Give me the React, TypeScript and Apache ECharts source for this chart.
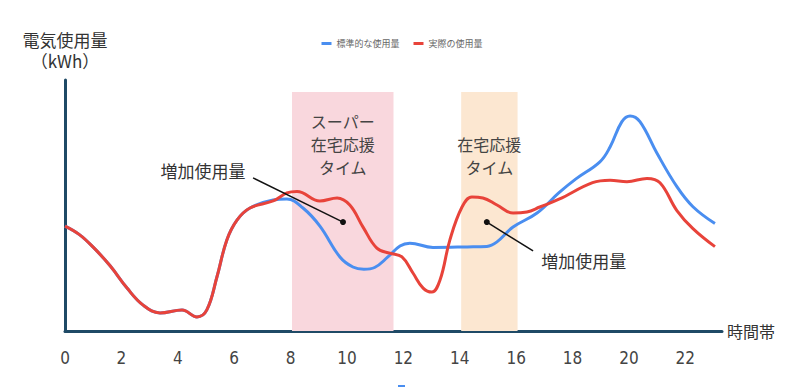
import React, { useEffect, useRef } from "react";
import * as echarts from "echarts";

const xTickLabels = ["0", "2", "4", "6", "8", "10", "12", "14", "16", "18", "20", "22"];

const standardHours = [0, 0.5, 0.99, 1.6, 2.2, 2.76, 3.37, 4.15, 4.68, 5.03, 5.39, 5.74, 6.1, 6.56, 7.38, 7.87, 8.44, 9.04, 9.75, 10.21, 10.6, 10.98, 11.45, 11.88, 12.23, 13.05, 14.26, 14.96, 15.32, 15.89, 16.74, 17.52, 18.12, 18.97, 19.33, 19.75, 20.04, 20.39, 20.99, 21.7, 22.27, 23.05];
const standardUsage = [41.8, 38.5, 33.5, 26, 17.1, 10.4, 7.2, 8.4, 5.6, 8.4, 21.6, 36.3, 44.2, 49, 52.2, 52.6, 49, 41.8, 29.5, 25.5, 24.6, 25.3, 29.5, 33.9, 35, 33.3, 33.5, 33.7, 35.5, 41.4, 47, 55.1, 60.6, 67.4, 73.3, 83.4, 85.7, 83.4, 70.9, 57.5, 49.5, 42.8];

const actualHours = [0, 0.5, 0.99, 1.6, 2.2, 2.76, 3.37, 4.15, 4.68, 5.03, 5.39, 5.74, 6.1, 6.56, 7.38, 7.87, 8.23, 9.04, 9.65, 10.1, 10.57, 11.06, 11.52, 11.95, 12.34, 12.7, 13.01, 13.3, 13.65, 14.08, 14.43, 14.82, 15.32, 15.89, 16.38, 16.84, 17.52, 18.71, 19.33, 19.93, 20.64, 21.1, 21.7, 22.27, 23.05];
const actualUsage = [41.8, 38.5, 33.5, 26, 17.1, 10.4, 7.2, 8.4, 5.6, 8.4, 21.6, 36.3, 44.2, 49, 51.8, 55, 55.6, 51.8, 53, 50.2, 41.4, 33, 31, 29.5, 23.1, 17.1, 15.5, 20.3, 36.3, 49.4, 53.4, 53, 50.2, 47, 47.4, 49.4, 52.5, 59.1, 60.1, 59.5, 60.8, 59.1, 48, 40.8, 33.6];

const bandRanges = [
  { from: 8.05, to: 11.65, top: 95.2, label: "スーパー\n在宅応援\nタイム", color: "#f9d7dd", gap: 17 },
  { from: 14.05, to: 16.05, top: 95.2, label: "在宅応援\nタイム", color: "#fce7d1", gap: 40 },
];

const annotations = [
  { text: "増加使用量", textAt: [4.89, 64.1], from: [6.67, 61], to: [9.86, 43.4] },
  { text: "増加使用量", textAt: [18.4, 27.9], from: [16.6, 31.9], to: [14.96, 43.4] },
];

const JP = "'Noto Sans CJK JP', 'Noto Sans', sans-serif";

export default function App() {
  const ref = useRef<HTMLDivElement>(null);
  useEffect(() => {
    if (!ref.current) return;
    const chart = echarts.init(ref.current, null, { renderer: "svg" });
    const zip = (xs: number[], ys: number[]) => xs.map((x, i) => [x, ys[i]]);
    chart.setOption({
      animation: false,
      backgroundColor: "#ffffff",
      legend: {
        top: 34,
        left: "center",
        icon: "rect",
        itemWidth: 10,
        itemHeight: 3,
        itemGap: 14,
        textStyle: { fontSize: 9, color: "#666", fontFamily: JP },
        data: ["標準的な使用量", "実際の使用量"],
      },
      grid: { left: 65, top: 80, width: 657, height: 251 },
      xAxis: {
        type: "value",
        min: 0,
        max: 23.3,
        interval: 2,
        name: "時間帯",
        nameLocation: "end",
        nameGap: 5,
        nameTextStyle: { fontSize: 16, color: "#333", fontFamily: JP, verticalAlign: "middle" },
        axisLine: { show: true, lineStyle: { color: "#1f4a66", width: 3 } },
        axisTick: { show: false },
        splitLine: { show: false },
        axisLabel: {
          showMaxLabel: false,
          margin: 18,
          fontSize: 17,
          color: "#444",
          fontFamily: "'Liberation Sans Narrow', 'DejaVu Sans Condensed', sans-serif",
          formatter: (v: number) => {
            const s = String(Math.round(v));
            return xTickLabels.includes(s) && Math.abs(v - Math.round(v)) < 1e-6 ? s : "";
          },
        },
      },
      yAxis: {
        type: "value",
        min: 0,
        max: 100,
        name: "電気使用量\n（kWh）",
        nameLocation: "end",
        nameGap: 9,
        nameTextStyle: { fontSize: 17, lineHeight: 21, color: "#333", fontFamily: JP, align: "center" },
        axisLine: { show: true, lineStyle: { color: "#1f4a66", width: 3 } },
        axisTick: { show: false },
        axisLabel: { show: false },
        splitLine: { show: false },
      },
      series: [
        {
          name: "標準的な使用量",
          type: "line",
          smooth: 0.4,
          symbol: "none",
          lineStyle: { color: "#4a8ef0", width: 3 },
          itemStyle: { color: "#4a8ef0" },
          data: zip(standardHours, standardUsage),
          z: 3,
          markArea: {
            silent: true,
            data: bandRanges.map((b) => [
              {
                xAxis: b.from,
                yAxis: 0,
                itemStyle: { color: b.color },
                label: {
                  show: true,
                  position: "insideTop",
                  distance: b.gap,
                  formatter: b.label,
                  fontSize: 16,
                  lineHeight: 23,
                  color: "#444",
                  fontFamily: JP,
                },
              },
              { xAxis: b.to, yAxis: b.top },
            ]),
          },
        },
        {
          name: "実際の使用量",
          type: "line",
          smooth: 0.4,
          symbol: "none",
          lineStyle: { color: "#e8433a", width: 3 },
          itemStyle: { color: "#e8433a" },
          data: zip(actualHours, actualUsage),
          z: 4,
          markLine: {
            silent: true,
            symbol: ["none", "none"],
            label: { show: false },
            lineStyle: { color: "#111", width: 1.5, type: "solid" },
            data: annotations.map((a) => [{ coord: a.from }, { coord: a.to }]),
          },
          markPoint: {
            silent: true,
            data: [
              ...annotations.map((a) => ({
                coord: a.to,
                symbol: "circle",
                symbolSize: 6,
                itemStyle: { color: "#111" },
                label: { show: false },
              })),
              ...annotations.map((a) => ({
                coord: a.textAt,
                symbol: "circle",
                symbolSize: 1,
                itemStyle: { color: "rgba(0,0,0,0)" },
                label: {
                  show: true,
                  position: "inside",
                  formatter: a.text,
                  fontSize: 17,
                  color: "#333",
                  fontFamily: JP,
                },
              })),
            ],
          },
        },
      ],
      graphic: [
        { type: "rect", left: 398, top: 385, shape: { width: 7, height: 2 }, style: { fill: "#4a8ef0" } },
      ],
    });
    return () => chart.dispose();
  }, []);
  return <div ref={ref} style={{ width: 804, height: 391, position: "absolute", left: 0, top: 0 }} />;
}
